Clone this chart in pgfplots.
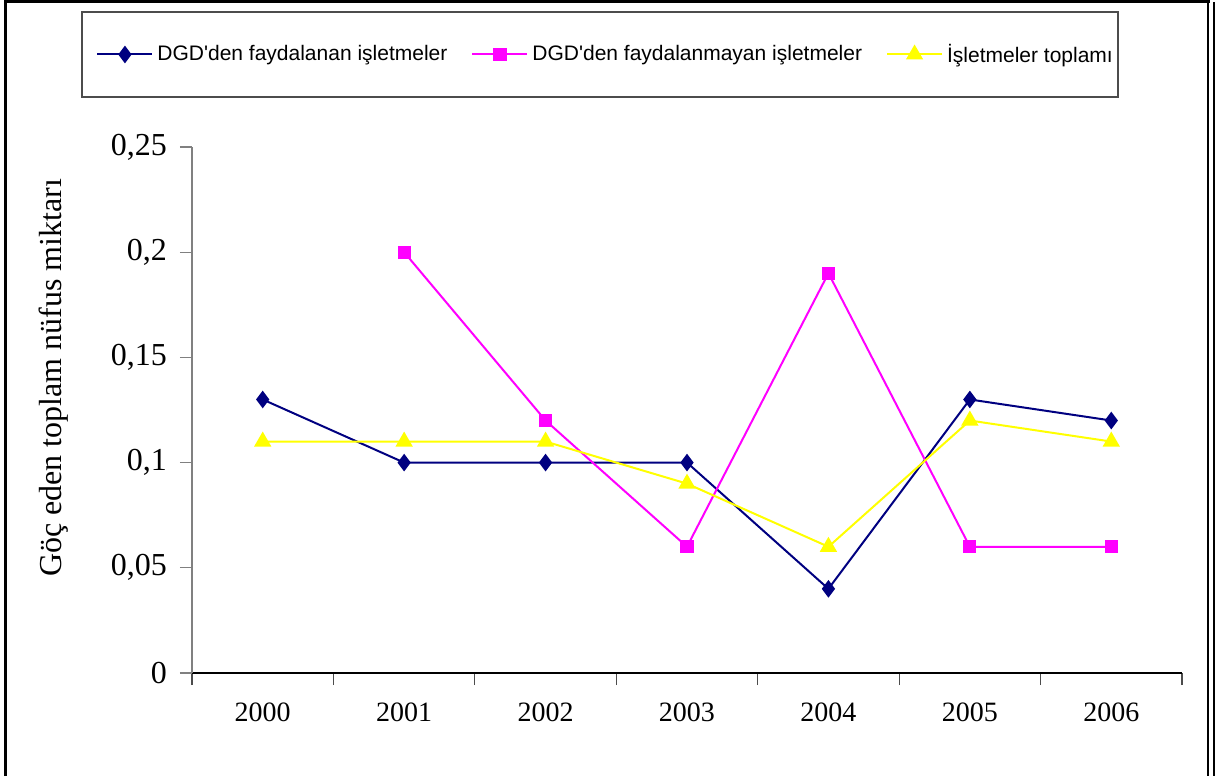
\documentclass[border=0pt]{standalone}
\usepackage{pgfplots}
\pgfplotsset{compat=1.18}
\usepackage{fontspec}
\setmainfont{Liberation Serif}
\newfontfamily\arial{Liberation Sans}
\definecolor{dnavy}{RGB}{0,0,128}
\definecolor{dmag}{RGB}{255,0,255}
\definecolor{dyel}{RGB}{255,255,0}
\begin{document}
\begin{tikzpicture}
\begin{axis}[
  scale only axis,
  width=495pt, height=263pt,
  at={(0,0)}, anchor=south west,
  xmin=-0.5, xmax=6.5, ymin=0, ymax=0.25,
  axis x line=bottom, axis y line=left,
  axis line style={-},
  x axis line style={black, line width=0.8pt},
  y axis line style={gray, line width=0.8pt},
  xtick={0,1,2,3,4,5,6},
  xticklabels={2000,2001,2002,2003,2004,2005,2006},
  major x tick style={draw=none},
  minor xtick={-0.5,0.5,1.5,2.5,3.5,4.5,5.5,6.5},
  minor x tick style={black!70, line width=0.6pt},
  minor tick length=6pt,
  major tick length=6pt,
  tick align=outside,
  ytick={0,0.05,0.1,0.15,0.2,0.25},
  yticklabels={0,{0,05},{0,1},{0,15},{0,2},{0,25}},
  ytick style={gray, line width=0.6pt},
  yticklabel style={font=\fontsize{16}{18}\selectfont, anchor=east, xshift=-3pt},
  xticklabel style={font=\fontsize{14}{16}\selectfont, anchor=north, yshift=-5.5pt},
  ylabel={Göç eden toplam nüfus miktarı},
  ylabel style={font=\fontsize{16}{18}\selectfont, at={(axis description cs:-0.1394,0.561)}, anchor=center, rotate=0},
  legend columns=3,
  legend cell align=left,
  legend style={draw=none, fill=none, at={(axis description cs:-0.103,1.1759)}, anchor=west,
    font=\arial\fontsize{10.5}{12}\selectfont,
    /tikz/every even column/.append style={column sep=10pt},
    /tikz/every odd column/.append style={column sep=0pt}},
  legend image code/.code={\draw[mark repeat=2,mark phase=2] plot coordinates {(0pt,0pt) (13.75pt,0pt) (27.5pt,0pt)};},
  clip=false,
]
\addplot[color=dnavy, line width=1pt, mark=diamond*, mark size=3.6pt, mark options={solid, fill=dnavy}]
  coordinates {(0,0.13) (1,0.10) (2,0.10) (3,0.10) (4,0.04) (5,0.13) (6,0.12)};
\addlegendentry{DGD'den faydalanan işletmeler}
\addplot[color=dmag, line width=1pt, mark=square*, mark size=2.8pt, mark options={solid, fill=dmag}]
  coordinates {(1,0.20) (2,0.12) (3,0.06) (4,0.19) (5,0.06) (6,0.06)};
\addlegendentry{DGD'den faydalanmayan işletmeler}
\addplot[color=dyel, line width=1pt, mark=triangle*, mark size=4pt, mark options={solid, fill=dyel}]
  coordinates {(0,0.11) (1,0.11) (2,0.11) (3,0.09) (4,0.06) (5,0.12) (6,0.11)};
\addlegendentry{İşletmeler toplamı}
\end{axis}
% legend frame
\draw[black!70, line width=0.6pt] (-55pt,288pt) rectangle (463pt,330.5pt);
% outer frame
\draw[black, line width=1.5pt] (-93pt,-51.5pt) -- (-93pt,335.5pt) -- (509pt,335.5pt);
\draw[black, line width=1.2pt] (508pt,335.5pt) -- (508pt,-51.5pt);
\draw[black, line width=0.8pt] (511pt,335.5pt) -- (511pt,-51.5pt);
\useasboundingbox (-96pt,-51.5pt) rectangle (520pt,336.5pt);
\end{tikzpicture}
\end{document}
